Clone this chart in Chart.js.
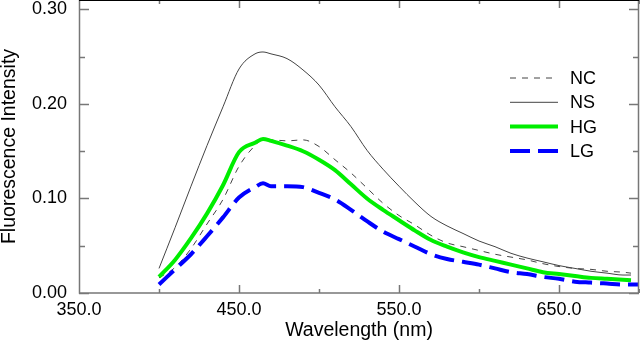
<!DOCTYPE html>
<html>
<head>
<meta charset="utf-8">
<script src="https://cdn.jsdelivr.net/npm/chart.js@4"></script>
<style>
  html, body { margin: 0; padding: 0; background: #fff; }
  #wrap { width: 640px; height: 345px; }
</style>
</head>
<body>
<div id="wrap"><canvas id="fluor"></canvas></div>
<script>
  // data
  const wavelengths = [400,410,420,430,440,450,460,465,470,480,490,500,510,520,530,540,550,560,570,580,590,600,610,620,630,640,650,660,670,680,690,695,700];
  const seriesNames = ['NC','NS','HG','LG'];
  const ncValues = [0.016,0.027,0.047,0.073,0.099,0.134,0.156,0.162,0.162,0.161,0.162,0.155,0.141,0.127,0.111,0.095,0.082,0.072,0.061,0.053,0.049,0.045,0.041,0.038,0.035,0.031,0.028,0.026,0.025,0.023,0.022,0.021,null];
  const nsValues = [0.026,0.069,0.113,0.156,0.197,0.237,0.253,0.255,0.253,0.248,0.236,0.220,0.197,0.176,0.151,0.131,0.113,0.096,0.081,0.071,0.063,0.055,0.049,0.042,0.037,0.033,0.029,0.026,0.023,0.021,0.019,0.019,null];
  const hgValues = [0.017,0.035,0.058,0.084,0.114,0.149,0.159,0.163,0.161,0.156,0.150,0.141,0.130,0.115,0.100,0.088,0.077,0.066,0.056,0.049,0.043,0.038,0.034,0.030,0.026,0.022,0.020,0.018,0.016,0.015,0.014,0.0135,null];
  const lgValues = [0.009,0.025,0.041,0.060,0.080,0.101,0.112,0.116,0.113,0.113,0.112,0.106,0.099,0.088,0.076,0.065,0.057,0.049,0.041,0.036,0.033,0.030,0.026,0.022,0.020,0.017,0.015,0.012,0.011,0.010,0.009,0.009,0.009];
  const xTicks = [350,400,450,500,550,600,650,700];
  const yTicks = [0,0.05,0.10,0.15,0.20,0.25,0.30];

  const pts = vals => wavelengths.map((w, i) => ({x: w, y: vals[i]}));

  Chart.defaults.color = '#000'
  Chart.defaults.font.family = '"Liberation Sans", Arial, sans-serif'
  Chart.defaults.font.size = 18

  // box + inward tick marks + legend, drawn like the original plot
  const frame = {
    id: 'frame',
    afterDraw(chart) {
      const ctx = chart.ctx;
      const a = chart.chartArea;
      const xs = chart.scales.x, ys = chart.scales.y;
      ctx.save();
      ctx.lineWidth = 1.5;
      ctx.strokeStyle = '#777';
      ctx.beginPath();
      ctx.moveTo(a.left + 0.5, a.top); ctx.lineTo(a.left + 0.5, a.bottom);
      ctx.lineTo(a.right, a.bottom);
      ctx.moveTo(a.right - 0.5, a.top); ctx.lineTo(a.right - 0.5, a.bottom);
      xTicks.forEach((v, i) => {
        const px = Math.round(xs.getPixelForValue(v)) + 0.5;
        const len = i % 2 === 0 ? 8 : 4;
        ctx.moveTo(px, a.bottom); ctx.lineTo(px, a.bottom - len);
        ctx.moveTo(px, a.top); ctx.lineTo(px, a.top + len);
      });
      yTicks.forEach((v, i) => {
        const py = Math.round(ys.getPixelForValue(v)) + 0.5;
        const len = i % 2 === 0 ? 10 : 6;
        ctx.moveTo(a.left, py); ctx.lineTo(a.left + len, py);
        ctx.moveTo(a.right, py); ctx.lineTo(a.right - len, py);
      });
      ctx.stroke();
      ctx.strokeStyle = '#000';
      ctx.lineWidth = 1;
      ctx.beginPath();
      ctx.moveTo(a.left, a.top + 0.5); ctx.lineTo(a.right, a.top + 0.5);
      ctx.stroke();

      // legend
      ctx.font = '18px "Liberation Sans", Arial, sans-serif';
      ctx.textBaseline = 'middle';
      ctx.fillStyle = '#000';
      chart.data.datasets.forEach((ds, i) => {
        const y = 78 + i * 24.3;
        ctx.beginPath();
        ctx.strokeStyle = ds.borderColor;
        ctx.lineWidth = ds.borderWidth;
        ctx.setLineDash(ds.borderDash || []);
        ctx.moveTo(510, y); ctx.lineTo(558, y);
        ctx.stroke();
        ctx.setLineDash([]);
        ctx.fillText(ds.label, 570, y + 1);
      });
      ctx.restore();
    }
  };

  new Chart(document.getElementById('fluor'), {
    type: 'line',
    data: {
      datasets: [
        { label: seriesNames[0], data: pts(ncValues), borderColor: '#444', borderWidth: 1, borderDash: [6,6], order: 4 },
        { label: seriesNames[1], data: pts(nsValues), borderColor: '#444', borderWidth: 1, order: 3 },
        { label: seriesNames[2], data: pts(hgValues), borderColor: '#00ee00', borderWidth: 4, order: 2 },
        { label: seriesNames[3], data: pts(lgValues), borderColor: '#0000ff', borderWidth: 4, borderDash: [20,8], order: 1 }
      ]
    },
    options: {
      responsive: true,
      maintainAspectRatio: false,
      animation: false,
      layout: { autoPadding: false, padding: { left: 0, right: 1, top: 0, bottom: 0 } },
      elements: { point: { radius: 0 }, line: { cubicInterpolationMode: 'monotone', fill: false } },
      plugins: { legend: { display: false }, tooltip: { enabled: false } },
      scales: {
        x: {
          type: 'linear',
          min: 350,
          max: 700,
          afterBuildTicks: s => { s.ticks = xTicks.map(v => ({value: v})); },
          afterFit: s => { s.height = 52; s.paddingLeft = 0; s.paddingRight = 0; },
          grid: { display: false, drawTicks: false },
          border: { display: false },
          ticks: {
            padding: 6,
            maxRotation: 0,
            autoSkip: false,
            callback: v => ((v - 350) % 100 === 0 && v < 700) ? v.toFixed(1) : ''
          },
          title: { display: true, text: 'Wavelength (nm)', font: { size: 19.5 }, padding: { top: 0, bottom: 3 } }
        },
        y: {
          min: 0,
          max: 0.31,
          afterBuildTicks: s => { s.ticks = yTicks.map(v => ({value: v})); },
          afterFit: s => { s.width = 79; s.paddingTop = 0; s.paddingBottom = 0; },
          grid: { display: false, drawTicks: false },
          border: { display: false },
          ticks: {
            padding: 12,
            autoSkip: false,
            callback: v => (Math.round(v * 100) % 10 === 0) ? v.toFixed(2) : ''
          },
          title: { display: true, text: 'Fluorescence Intensity', font: { size: 19.5, lineHeight: 1 }, padding: { top: 0, bottom: 0 } }
        }
      }
    },
    plugins: [frame]
  });
</script>
</body>
</html>
